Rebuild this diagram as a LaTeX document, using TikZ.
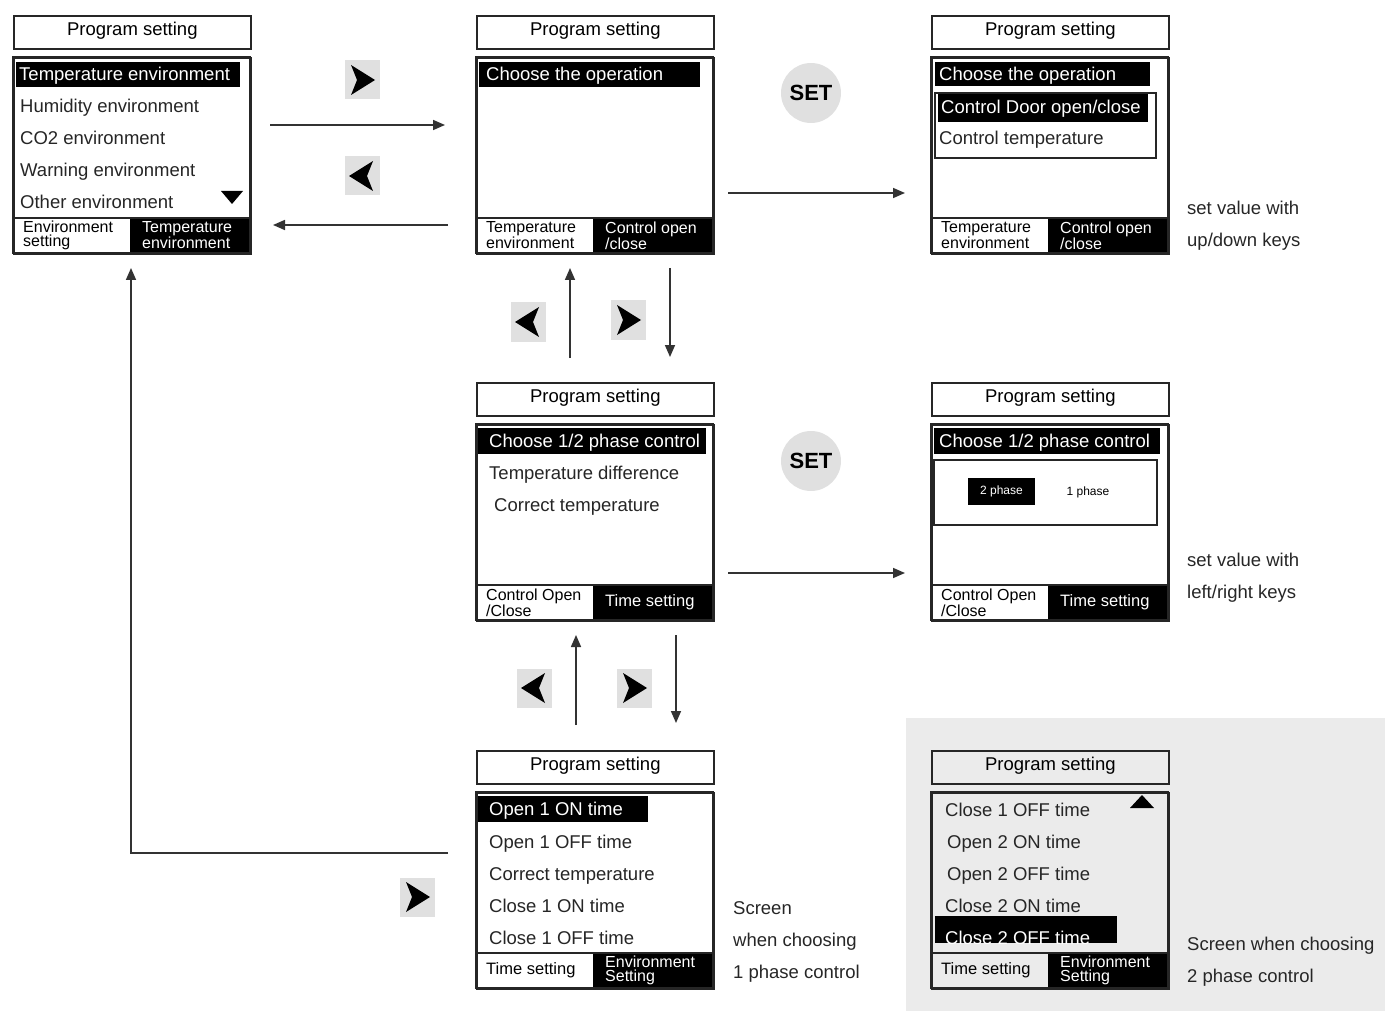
\documentclass[tikz,border=0pt]{standalone}
\usepackage{fontspec}
\setmainfont{Liberation Sans}
\usetikzlibrary{arrows.meta}

\newcommand\rowfont{\fontsize{18.5}{20}\selectfont}
\newcommand\keyfont{\fontsize{16.5}{17}\selectfont}
% frame of one screen: title box and main box
\newcommand\scrframe[2][]{%
  \node[titlebox,#1] (#2t) at (0,0) {Program setting};
  \node[mainbox,#1] (#2) at (0,42) {};
}
% bottom bar with its two soft key labels
\newcommand\scrbar[3]{%
  \fill (117,203) rectangle (237,238);
  \draw[frame] (0,203) -- (237,203);
  \draw[frame] (0,42) rectangle (237,238);
  \node[barlabel] (#1l) at (10,220.5) {#2};
  \node[barlabel,text=white] (#1r) at (129,220.5) {#3};
}

\begin{document}
\begin{tikzpicture}[x=1pt,y=-1pt,
	frame/.style={draw=black!85,line width=1.6pt},
	titlebox/.style={frame,fill=white,anchor=north west,minimum width=237pt,minimum height=33pt,inner sep=0pt,text depth=7pt,font=\rowfont},
	mainbox/.style={frame,fill=white,anchor=north west,minimum width=237pt,minimum height=196pt,inner sep=0pt},
	row/.style={anchor=west,inner sep=0pt,text height=15pt,text depth=2pt,font=\rowfont,text=black!85},
	barlabel/.style={anchor=west,align=left,inner sep=0pt,font=\fontsize{16}{14}\selectfont},
	small/.style={inner sep=0pt,font=\fontsize{12}{12}\selectfont},
	note/.style={anchor=west,align=left,inner sep=0pt,font=\fontsize{18.5}{32}\selectfont,text=black!85},
	conn/.style={line width=1.6pt,draw=black!80,-{Triangle[length=12pt,width=10pt]}},
	setkey/.style={circle,fill=black!12,minimum size=60pt,inner sep=0pt,font=\bfseries\fontsize{22}{22}\selectfont},
	keyr/.style={fill=black!12,minimum width=35pt,minimum height=39pt,inner sep=0pt,
		path picture={\fill[black] ([shift={(-11pt,15pt)}]path picture bounding box.center)
			-- ++(24pt,-15pt) -- ++(-24pt,-15pt) -- ++(6pt,15pt) -- cycle;}},
	keyl/.style={fill=black!12,minimum width=35pt,minimum height=39pt,inner sep=0pt,
		path picture={\fill[black] ([shift={(11pt,15pt)}]path picture bounding box.center)
			-- ++(-24pt,-15pt) -- ++(24pt,-15pt) -- ++(-6pt,15pt) -- cycle;}}]
	\useasboundingbox (0,0) rectangle (1385,1011);
	\fill[black!8] (906,718) rectangle (1385,1011);

	% environment list
	\begin{scope}[shift={(13,15)}]
		\scrframe{s1}
		\fill (3,47) rectangle (227,72);
		\node[row,text=white] (s1a) at (6,59.5) {Temperature environment};
		\node[row] (s1b) at (7,91) {Humidity environment};
		\node[row] (s1c) at (7,123) {CO2 environment};
		\node[row] (s1d) at (7,155) {Warning environment};
		\node[row] (s1e) at (7,187) {Other environment};
		\fill (208,176) -- (230,176) -- (219,189) -- cycle;
		\scrbar{s1}{Environment\\setting}{Temperature\\environment}
	\end{scope}

	% choose the operation
	\begin{scope}[shift={(476,15)}]
		\scrframe{s2}
		\fill (3,47) rectangle (224,72);
		\node[row,text=white] (s2a) at (10,59.5) {Choose the operation};
		\scrbar{s2}{Temperature\\environment}{Control open\\/close}
	\end{scope}

	\begin{scope}[shift={(931,15)}]
		\scrframe{s3}
		\fill (4,47) rectangle (219,71);
		\node[row,text=white] (s3a) at (8,59) {Choose the operation};
		\draw[frame,line width=1.3pt] (4,78) rectangle (225,143);
		\fill (7,79) rectangle (217,107);
		\node[row,text=white] (s3b) at (10,92) {Control Door open/close};
		\node[row] (s3c) at (8,123) {Control temperature};
		\scrbar{s3}{Temperature\\environment}{Control open\\/close}
	\end{scope}

	% phase control
	\begin{scope}[shift={(476,382)}]
		\scrframe{s4}
		\fill (2,46) rectangle (230,72);
		\node[row,text=white] (s4a) at (13,59) {Choose 1/2 phase control};
		\node[row] (s4b) at (13,91) {Temperature difference};
		\node[row] (s4c) at (18,123) {Correct temperature};
		\scrbar{s4}{Control Open\\/Close}{\keyfont Time setting}
	\end{scope}

	\begin{scope}[shift={(931,382)}]
		\scrframe{s5}
		\fill (3,46) rectangle (229,72);
		\node[row,text=white] (s5a) at (8,59) {Choose 1/2 phase control};
		\draw[frame,line width=1.3pt] (3,78) rectangle (226,143);
		\fill (37,96) rectangle (104,123);
		\node[small,text=white] (s5b) at (70.5,109.5) {2 phase};
		\node[small] (s5c) at (157,110) {1 phase};
		\scrbar{s5}{Control Open\\/Close}{\keyfont Time setting}
	\end{scope}

	% time setting
	\begin{scope}[shift={(476,750)}]
		\scrframe{s6}
		\fill (2,46) rectangle (172,72);
		\node[row,text=white] (s6a) at (13,59) {Open 1 ON time};
		\node[row] (s6b) at (13,92) {Open 1 OFF time};
		\node[row] (s6c) at (13,124) {Correct temperature};
		\node[row] (s6d) at (13,156) {Close 1 ON time};
		\node[row] (s6e) at (13,188) {Close 1 OFF time};
		\scrbar{s6}{\keyfont Time setting}{Environment\\Setting}
	\end{scope}

	\begin{scope}[shift={(931,750)}]
		\scrframe[fill=none]{s7}
		\node[row] (s7a) at (14,60) {Close 1 OFF time};
		\node[row] (s7b) at (16,92) {Open 2 ON time};
		\node[row] (s7c) at (16,124) {Open 2 OFF time};
		\node[row] (s7d) at (14,156) {Close 2 ON time};
		\fill (4,166) rectangle (186,193);
		\begin{scope}
			\clip (4,166) rectangle (186,193);
			\node[row,text=white] (s7e) at (14,188) {Close 2 OFF time};
		\end{scope}
		\fill (199,58) -- (223,58) -- (211,45) -- cycle;
		\scrbar{s7}{\keyfont Time setting}{Environment\\Setting}
	\end{scope}

	% keys
	\node[keyr] (kr1) at (362,80) {};
	\node[keyl] (kl1) at (362,176) {};
	\node[setkey] (set1) at (811,93) {SET};
	\node[keyl] (kl2) at (528,322) {};
	\node[keyr] (kr2) at (628,320) {};
	\node[setkey] (set2) at (811,461) {SET};
	\node[keyl] (kl3) at (534,688) {};
	\node[keyr] (kr3) at (634,688) {};
	\node[keyr] (kr4) at (417,897) {};

	% arrow ends
	\path (270,125) coordinate (a1) (445,125) coordinate (b1)
		  (448,225) coordinate (a2) (273,225) coordinate (b2)
		  (728,193) coordinate (a3) (905,193) coordinate (b3)
		  (570,358) coordinate (a4) (570,268) coordinate (b4)
		  (670,268) coordinate (a5) (670,357) coordinate (b5)
		  (728,573) coordinate (a6) (905,573) coordinate (b6)
		  (576,725) coordinate (a7) (576,635) coordinate (b7)
		  (676,635) coordinate (a8) (676,723) coordinate (b8)
		  (448,853) coordinate (a9) (131,268) coordinate (b9);
	\draw[conn] (a1) -- (b1);
	\draw[conn] (a2) -- (b2);
	\draw[conn] (a3) -- (b3);
	\draw[conn] (a4) -- (b4);
	\draw[conn] (a5) -- (b5);
	\draw[conn] (a6) -- (b6);
	\draw[conn] (a7) -- (b7);
	\draw[conn] (a8) -- (b8);
	\draw[conn] (a9) -| (b9);

	% notes
	\node[note] (n1) at (1187,226) {set value with\\up/down keys};
	\node[note] (n2) at (1187,578) {set value with\\left/right keys};
	\node[note] (n3) at (733,942) {Screen\\when choosing\\1 phase control};
	\node[note] (n4) at (1187,962) {Screen when choosing\\2 phase control};
\end{tikzpicture}
\end{document}
